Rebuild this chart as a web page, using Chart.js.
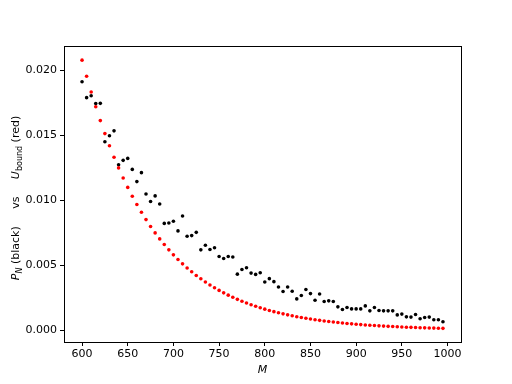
<!DOCTYPE html>
<html>
<head>
<meta charset="utf-8">
<script src="https://cdn.jsdelivr.net/npm/chart.js@4.4.0/dist/chart.umd.min.js"></script>
<style>
  html, body { margin: 0; padding: 0; background: #ffffff; }
  #wrap { width: 512px; height: 384px; }
</style>
</head>
<body>
<div id="wrap"><canvas id="c" width="512" height="384"></canvas></div>
<script>
// Category values (M)
const M = [600,605,610,615,620,625,630,635,640,645,650,655,660,665,670,675,680,685,690,695,
           700,705,710,715,720,725,730,735,740,745,750,755,760,765,770,775,780,785,790,795,
           800,805,810,815,820,825,830,835,840,845,850,855,860,865,870,875,880,885,890,895,
           900,905,910,915,920,925,930,935,940,945,950,955,960,965,970,975,980,985,990,995];

// Black series: P_N
const P_N = [0.01913,0.01791,0.01806,0.01745,0.01747,0.01451,0.01497,0.01535,0.01274,0.01308,
             0.01323,0.01238,0.01144,0.01213,0.01048,0.00991,0.01034,0.00971,0.00822,0.00825,
             0.00838,0.00764,0.00879,0.00723,0.00728,0.00753,0.00618,0.00654,0.00621,0.00634,
             0.00567,0.00552,0.00567,0.00563,0.00431,0.00467,0.00480,0.00439,0.00429,0.00442,
             0.00370,0.00396,0.00373,0.00332,0.00297,0.00332,0.00299,0.00240,0.00266,0.00312,
             0.00281,0.00230,0.00278,0.00220,0.00225,0.00220,0.00179,0.00159,0.00174,0.00163,
             0.00163,0.00163,0.00186,0.00148,0.00174,0.00151,0.00148,0.00148,0.00148,0.00117,
             0.00123,0.00102,0.00100,0.00120,0.00087,0.00097,0.00100,0.00079,0.00079,0.00064];

// Red series: U_bound
const U_bound = [0.02080,0.019557,0.018345,0.017207,0.016140,0.015140,0.014201,0.013321,0.012495,0.011720,
                 0.010994,0.010312,0.009673,0.009073,0.008511,0.007983,0.007488,0.007024,0.006589,0.006180,
                 0.005797,0.005438,0.005101,0.004784,0.004488,0.004210,0.003949,0.003704,0.003474,0.003259,
                 0.003057,0.002867,0.002690,0.002523,0.002367,0.002220,0.002082,0.001953,0.001832,0.001719,
                 0.001612,0.001512,0.001418,0.001330,0.001248,0.001171,0.001098,0.001030,0.000966,0.000906,
                 0.000850,0.000797,0.000748,0.000702,0.000658,0.000617,0.000579,0.000543,0.000510,0.000478,
                 0.000448,0.000421,0.000395,0.000370,0.000347,0.000326,0.000305,0.000286,0.000269,0.000252,
                 0.000236,0.000222,0.000208,0.000195,0.000183,0.000172,0.000161,0.000151,0.000142,0.000133];

// Tick labels
const xTicks = [600,650,700,750,800,850,900,950,1000];
const yTicks = [0.000,0.005,0.010,0.015,0.020];

const FONT = "'DejaVu Sans', 'Liberation Sans', sans-serif";

const framePlugin = {
  id: 'frame',
  afterDatasetsDraw(chart) {
    const a = chart.chartArea, ctx = chart.ctx;
    ctx.save();
    ctx.strokeStyle = '#000000';
    ctx.lineWidth = 1;
    ctx.strokeRect(Math.round(a.left) + 0.5, Math.round(a.top) + 0.5,
                   Math.round(a.right - a.left), Math.round(a.bottom - a.top));
    ctx.restore();
  }
};

const yLabelPlugin = {
  id: 'ylabel',
  afterDraw(chart) {
    const ctx = chart.ctx, a = chart.chartArea;
    const big = "11px " + FONT, bigI = "italic 11px " + FONT;
    const small = "8px " + FONT, smallI = "italic 8px " + FONT;
    const segs = [
      {t: 'P', f: bigI, dy: 0},
      {t: 'N', f: smallI, dy: 2.5},
      {t: ' (black)     vs     ', f: big, dy: 0},
      {t: 'U', f: bigI, dy: 0},
      {t: 'bound', f: small, dy: 2.5},
      {t: ' (red)', f: big, dy: 0}
    ];
    ctx.save();
    let total = 0;
    segs.forEach(s => { ctx.font = s.f; s.w = ctx.measureText(s.t).width; total += s.w; });
    const cy = (a.top + a.bottom) / 2 + 4;
    ctx.translate(19, cy);
    ctx.rotate(-Math.PI / 2);
    ctx.fillStyle = '#000000';
    ctx.textBaseline = 'alphabetic';
    ctx.textAlign = 'left';
    let x = -total / 2;
    segs.forEach(s => { ctx.font = s.f; ctx.fillText(s.t, x, s.dy); x += s.w; });
    ctx.restore();
  }
};

const ctx = document.getElementById('c').getContext('2d');
new Chart(ctx, {
  type: 'scatter',
  data: {
    datasets: [
      {
        label: 'U_bound',
        data: M.map((m, i) => ({x: m, y: U_bound[i]})),
        backgroundColor: '#ff0000',
        borderWidth: 0,
        pointRadius: 1.8,
        order: 0
      },
      {
        label: 'P_N',
        data: M.map((m, i) => ({x: m, y: P_N[i]})),
        backgroundColor: '#000000',
        borderWidth: 0,
        pointRadius: 1.8,
        order: 1
      }
    ]
  },
  options: {
    responsive: false,
    animation: false,
    devicePixelRatio: 1,
    layout: { padding: { left: 0, right: 51, top: 46, bottom: 0 } },
    plugins: { legend: { display: false }, tooltip: { enabled: false } },
    scales: {
      x: {
        type: 'linear',
        min: 580.25,
        max: 1014.75,
        afterFit(s) { s.height = 42; },
        afterBuildTicks(s) { s.ticks = xTicks.map(v => ({value: v})); },
        ticks: {
          color: '#000000',
          font: { family: FONT, size: 11 },
          padding: 2,
          maxRotation: 0,
          autoSkip: false,
          callback: v => String(v)
        },
        grid: { display: true, drawOnChartArea: false, drawTicks: true, tickLength: 4, color: '#000000', tickColor: '#000000' },
        border: { display: true, color: '#000000', width: 1 },
        title: { display: true, text: 'M', color: '#000000', font: { family: FONT, size: 11, style: 'italic' }, padding: { top: 0, bottom: 7 } }
      },
      y: {
        type: 'linear',
        min: -0.00092,
        max: 0.02189,
        afterFit(s) { s.width = 64; },
        afterBuildTicks(s) { s.ticks = yTicks.map(v => ({value: v})); },
        ticks: {
          color: '#000000',
          font: { family: FONT, size: 11 },
          padding: 3,
          autoSkip: false,
          callback: v => Number(v).toFixed(3)
        },
        grid: { display: true, drawOnChartArea: false, drawTicks: true, tickLength: 4, color: '#000000', tickColor: '#000000' },
        border: { display: true, color: '#000000', width: 1 }
      }
    }
  },
  plugins: [framePlugin, yLabelPlugin]
});
</script>
</body>
</html>
